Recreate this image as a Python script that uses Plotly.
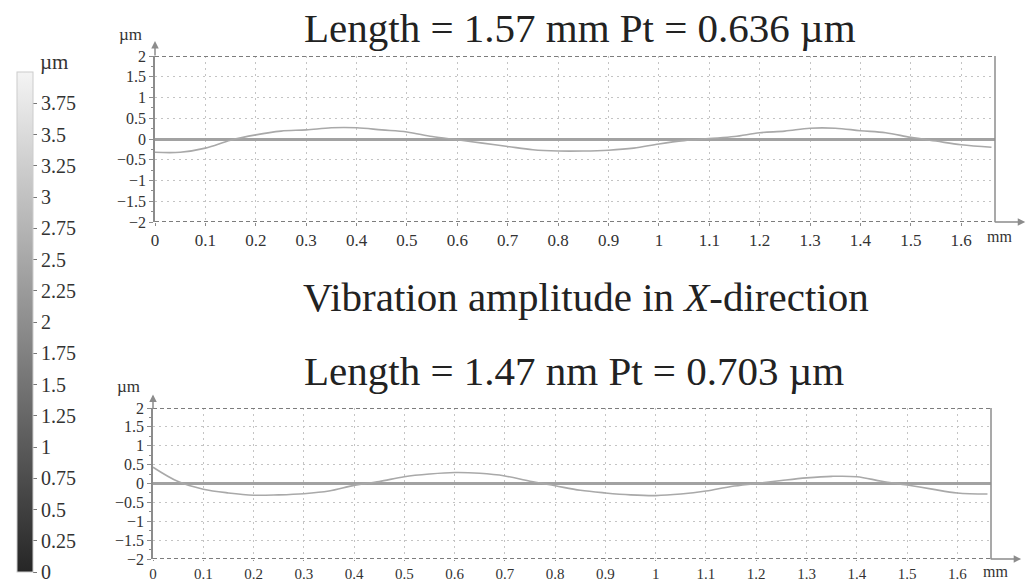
import plotly.graph_objects as go

# Profile along the measured length (mm) and surface height (µm)
x_top = [0, 0.05, 0.1, 0.15, 0.2, 0.25, 0.3, 0.35, 0.4, 0.45, 0.5, 0.55, 0.6,
         0.65, 0.7, 0.75, 0.8, 0.85, 0.9, 0.95, 1.0, 1.05, 1.1, 1.15, 1.2,
         1.25, 1.3, 1.35, 1.4, 1.45, 1.5, 1.55, 1.6, 1.66]
y_top = [-0.32, -0.32, -0.22, -0.03, 0.1, 0.19, 0.22, 0.27, 0.27, 0.22, 0.17,
         0.06, -0.02, -0.1, -0.18, -0.26, -0.29, -0.29, -0.27, -0.22, -0.12,
         -0.04, 0.01, 0.06, 0.15, 0.19, 0.26, 0.26, 0.2, 0.15, 0.04, -0.05,
         -0.14, -0.2]

x_bot = [0, 0.05, 0.1, 0.15, 0.2, 0.25, 0.3, 0.35, 0.4, 0.45, 0.5, 0.55, 0.6,
         0.65, 0.7, 0.75, 0.8, 0.85, 0.9, 0.95, 1.0, 1.05, 1.1, 1.15, 1.2,
         1.25, 1.3, 1.35, 1.4, 1.45, 1.5, 1.55, 1.6, 1.66]
y_bot = [0.43, 0.05, -0.15, -0.25, -0.31, -0.3, -0.27, -0.2, -0.05, 0.05, 0.18,
         0.25, 0.29, 0.27, 0.2, 0.06, -0.06, -0.18, -0.25, -0.3, -0.32, -0.28,
         -0.2, -0.08, 0.0, 0.08, 0.15, 0.19, 0.18, 0.06, -0.04, -0.15, -0.25,
         -0.28]

x_ticks = [0, 0.1, 0.2, 0.3, 0.4, 0.5, 0.6, 0.7, 0.8, 0.9, 1, 1.1, 1.2, 1.3,
           1.4, 1.5, 1.6]
y_ticks = [-2, -1.5, -1, -0.5, 0, 0.5, 1, 1.5, 2]
depth_ticks = [0, 0.25, 0.5, 0.75, 1, 1.25, 1.5, 1.75, 2, 2.25, 2.5, 2.75, 3,
               3.25, 3.5, 3.75]
depth_scale = [0, 4]

title_top = "Length = 1.57 mm Pt = 0.636 µm"
title_mid = "Vibration amplitude in <i>X</i>-direction"
title_bot = "Length = 1.47 nm Pt = 0.703 µm"

SERIF = "Liberation Serif"
GRID = "#c4c4c4"
AXIS = "#8c8c8c"
CURVE = "#a9a9a9"
TEXT = "#333333"

fig = go.Figure()

fig.add_trace(go.Scatter(x=x_top, y=y_top, mode="lines", xaxis="x", yaxis="y",
                         line=dict(color=CURVE, width=1.6, shape="spline"),
                         hoverinfo="skip", showlegend=False))
fig.add_trace(go.Scatter(x=x_bot, y=y_bot, mode="lines", xaxis="x2", yaxis="y2",
                         line=dict(color=CURVE, width=1.6, shape="spline"),
                         hoverinfo="skip", showlegend=False))

# grayscale height bar
fig.add_trace(go.Scatter(
    x=[None, None], y=[None, None], mode="markers", xaxis="x", yaxis="y",
    hoverinfo="skip", showlegend=False,
    marker=dict(color=depth_scale, cmin=depth_scale[0], cmax=depth_scale[1],
                colorscale=[[0, "#262626"], [0.5, "#8e8e8e"], [1, "#f4f4f4"]],
                showscale=True,
                colorbar=dict(thickness=16, len=500, lenmode="pixels",
                              x=17 / 1029, xanchor="left", xpad=0,
                              y=1 - 322 / 585, yanchor="middle", ypad=0,
                              outlinewidth=1, outlinecolor="#cccccc",
                              tickvals=depth_ticks, ticks="outside", ticklen=4,
                              tickcolor="#777777", ticklabeloverflow="allow",
                              tickfont=dict(family=SERIF, size=20, color=TEXT)))))


def axis_pair(xdom, ydom, xfont):
    xa = dict(domain=xdom, range=[0, 1.667], tickvals=x_ticks,
              showgrid=True, gridcolor=GRID, griddash="2px,4px", gridwidth=1,
              zeroline=False, showline=False, ticks="outside", ticklen=3,
              tickcolor=AXIS, tickfont=dict(family=SERIF, size=xfont, color=TEXT),
              fixedrange=True)
    ya = dict(domain=ydom, range=[-2, 2], tickvals=y_ticks,
              showgrid=True, gridcolor=GRID, griddash="2px,4px", gridwidth=1,
              zeroline=True, zerolinecolor="#a2a2a2", zerolinewidth=3,
              showline=True, linecolor=AXIS, linewidth=1.5,
              ticks="outside", ticklen=4, tickcolor=AXIS,
              minor=dict(dtick=0.25, ticks="outside", ticklen=2, tickcolor=AXIS),
              tickfont=dict(family=SERIF, size=16, color=TEXT),
              fixedrange=True)
    return xa, ya


xa1, ya1 = axis_pair([155 / 1029, 995 / 1029], [1 - 222 / 585, 1 - 56 / 585], 17)
xa2, ya2 = axis_pair([153 / 1029, 991 / 1029], [1 - 559 / 585, 1 - 408 / 585], 15)
xa1["anchor"] = "y"
ya1["anchor"] = "x"
xa2["anchor"] = "y2"
ya2["anchor"] = "x2"
xa2["ticklen"] = 1

shapes = []
annotations = []
for xr, yr, mm_shift in (("x", "y", -4), ("x2", "y2", -2)):
    # upper and lower frame lines
    for yv in (2, -2):
        shapes.append(dict(type="line", xref=f"{xr} domain", yref=yr,
                           x0=0, x1=1, y0=yv, y1=yv,
                           line=dict(color="#7d7d7d", width=2, dash="4px,3px")))
    # right frame line
    shapes.append(dict(type="line", xref=f"{xr} domain", yref=yr,
                       x0=1, x1=1, y0=-2, y1=2,
                       line=dict(color=AXIS, width=1.5)))
    # axis arrows
    annotations.append(dict(xref=f"{xr} domain", yref=f"{yr} domain",
                            x=0, y=1.09, ax=0, ay=16, text="", showarrow=True,
                            arrowhead=2, arrowsize=1, arrowwidth=1.5,
                            arrowcolor=AXIS))
    annotations.append(dict(xref=f"{xr} domain", yref=f"{yr} domain",
                            x=1.036, y=0, ax=-32, ay=0, text="", showarrow=True,
                            arrowhead=2, arrowsize=1, arrowwidth=1.5,
                            arrowcolor=AXIS))
    annotations.append(dict(xref=f"{xr} domain", yref=f"{yr} domain",
                            x=0, y=1.0, xshift=-11, yshift=10, text="µm",
                            showarrow=False, xanchor="right", yanchor="bottom",
                            font=dict(family=SERIF, size=17, color=TEXT)))
    annotations.append(dict(xref=f"{xr} domain", yref=f"{yr} domain",
                            x=1.0, y=0, xshift=4, yshift=mm_shift, text="mm",
                            showarrow=False, xanchor="center", yanchor="top",
                            font=dict(family=SERIF, size=16, color=TEXT)))

# titles
for text, xpix, ypix in ((title_top, 580, 28), (title_mid, 586, 297),
                         (title_bot, 574, 371)):
    annotations.append(dict(xref="paper", yref="paper", x=xpix / 1029,
                            y=1 - ypix / 585, text=text, showarrow=False,
                            xanchor="center", yanchor="middle",
                            font=dict(family=SERIF, size=41, color="#222222")))

# height bar unit
annotations.append(dict(xref="paper", yref="paper", x=38 / 1029, y=1 - 62 / 585,
                        text="µm", showarrow=False, xanchor="left",
                        yanchor="middle",
                        font=dict(family=SERIF, size=21, color=TEXT)))

fig.update_layout(
    width=1029, height=585,
    margin=dict(l=0, r=0, t=0, b=0, autoexpand=False),
    paper_bgcolor="white", plot_bgcolor="white",
    xaxis=xa1, yaxis=ya1, xaxis2=xa2, yaxis2=ya2,
    shapes=shapes, annotations=annotations,
    showlegend=False,
)

fig.write_html("out.html")
